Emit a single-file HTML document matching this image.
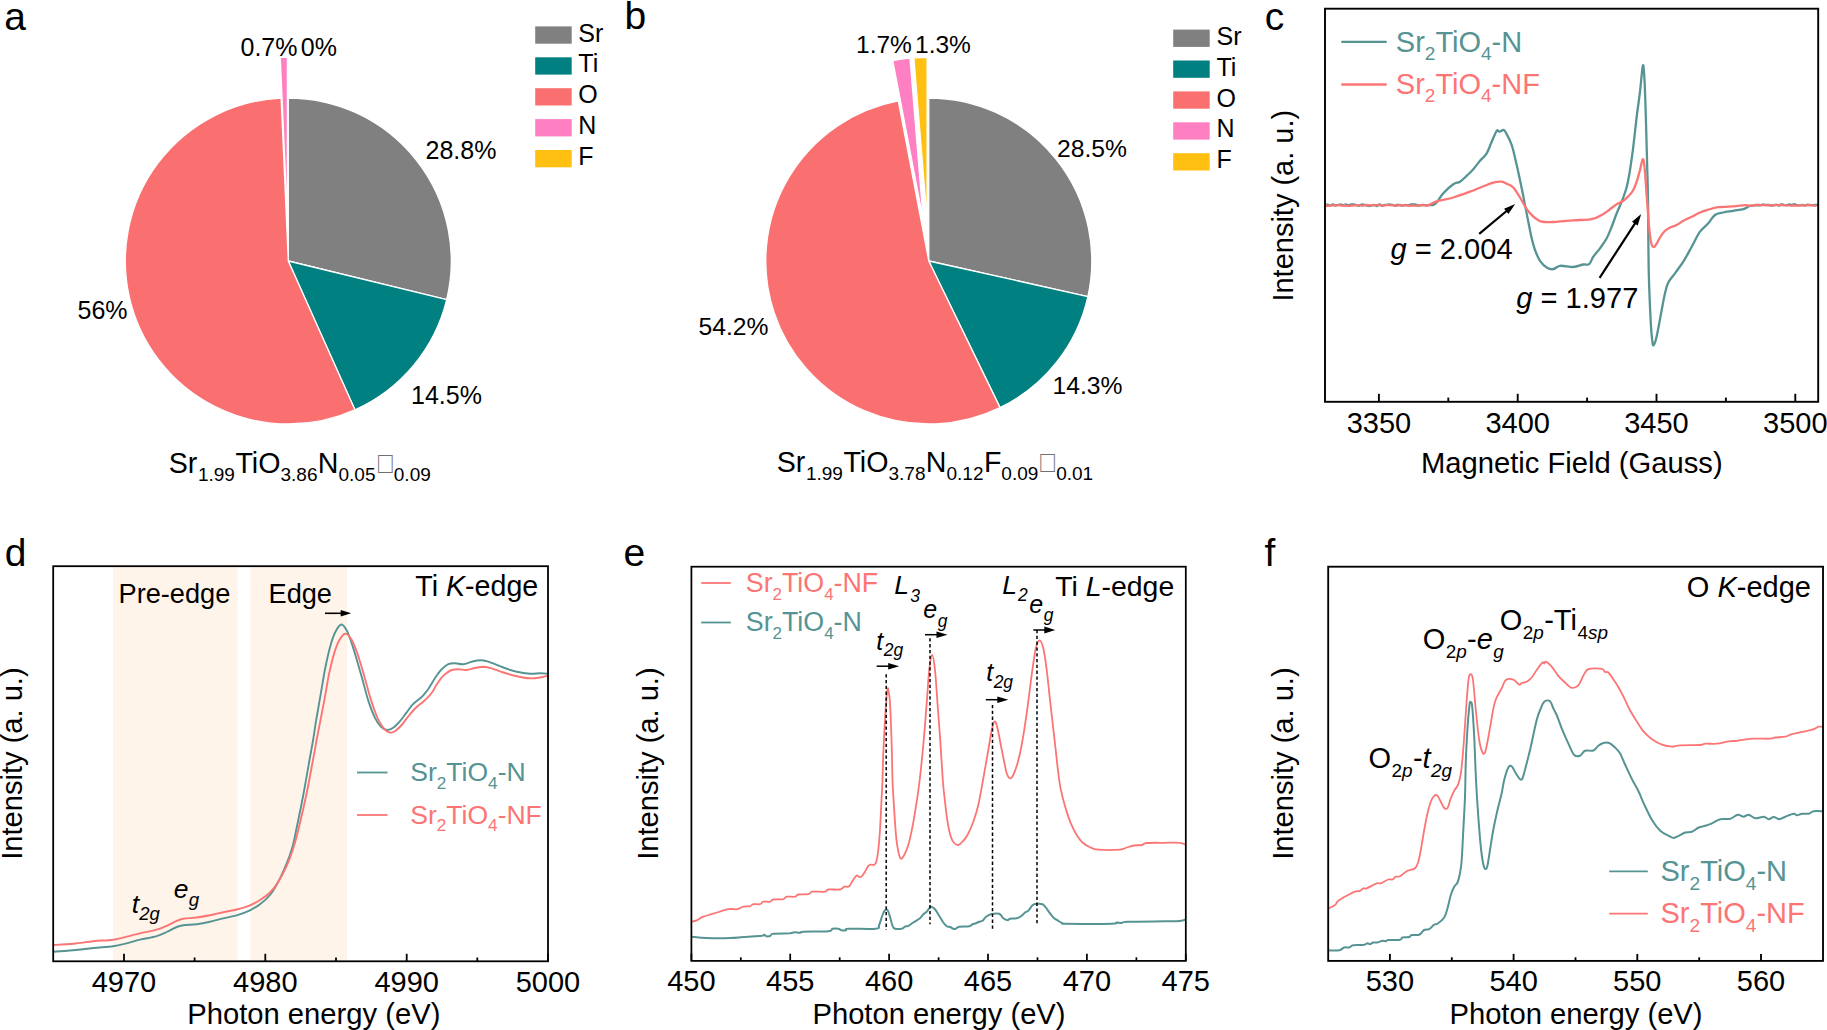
<!DOCTYPE html>
<html><head><meta charset="utf-8"><title>Figure</title>
<style>html,body{margin:0;padding:0;background:#fff}svg{display:block}text{font-family:"Liberation Sans", sans-serif}</style></head><body>
<svg width="1827" height="1030" viewBox="0 0 1827 1030">
<rect width="1827" height="1030" fill="#fff"/>
<text x="4.2" y="29.5" font-size="39.0px" fill="#000" text-anchor="start" ><tspan>a</tspan></text>
<text x="624.6" y="29.3" font-size="39.0px" fill="#000" text-anchor="start" ><tspan>b</tspan></text>
<text x="1264.8" y="29.5" font-size="39.0px" fill="#000" text-anchor="start" ><tspan>c</tspan></text>
<text x="4.8" y="566.0" font-size="39.0px" fill="#000" text-anchor="start" ><tspan>d</tspan></text>
<text x="623.6" y="566.0" font-size="39.0px" fill="#000" text-anchor="start" ><tspan>e</tspan></text>
<text x="1264.6" y="566.0" font-size="39.0px" fill="#000" text-anchor="start" ><tspan>f</tspan></text>
<path d="M288.30 261.00 L288.30 98.00 A163.00 163.00 0 0 1 446.68 299.55 Z" fill="#808080" stroke="#fff" stroke-width="1.3" stroke-linejoin="round"/>
<path d="M288.30 261.00 L446.68 299.55 A163.00 163.00 0 0 1 354.91 409.77 Z" fill="#008080" stroke="#fff" stroke-width="1.3" stroke-linejoin="round"/>
<path d="M288.30 261.00 L354.91 409.77 A163.00 163.00 0 1 1 281.13 98.16 Z" fill="#fa7070" stroke="#fff" stroke-width="1.3" stroke-linejoin="round"/>
<path d="M287.40 220.26 L280.24 57.42 A163.00 163.00 0 0 1 287.40 57.26 Z" fill="#ff80c2" stroke="#fff" stroke-width="1.3" stroke-linejoin="round"/>
<rect x="535.2" y="26.4" width="36.5" height="17.3" fill="#808080"/>
<text x="578.3" y="41.5" font-size="25.0px" fill="#000" text-anchor="start" ><tspan>Sr</tspan></text>
<rect x="535.2" y="57.3" width="36.5" height="17.3" fill="#008080"/>
<text x="578.3" y="72.4" font-size="25.0px" fill="#000" text-anchor="start" ><tspan>Ti</tspan></text>
<rect x="535.2" y="88.2" width="36.5" height="17.3" fill="#fa7070"/>
<text x="578.3" y="103.3" font-size="25.0px" fill="#000" text-anchor="start" ><tspan>O</tspan></text>
<rect x="535.2" y="119.1" width="36.5" height="17.3" fill="#ff80c2"/>
<text x="578.3" y="134.2" font-size="25.0px" fill="#000" text-anchor="start" ><tspan>N</tspan></text>
<rect x="535.2" y="150.0" width="36.5" height="17.3" fill="#ffc012"/>
<text x="578.3" y="165.1" font-size="25.0px" fill="#000" text-anchor="start" ><tspan>F</tspan></text>
<text x="425.5" y="158.5" font-size="25.0px" fill="#000" text-anchor="start" ><tspan>28.8%</tspan></text>
<text x="411.0" y="404.0" font-size="25.0px" fill="#000" text-anchor="start" ><tspan>14.5%</tspan></text>
<text x="77.5" y="319.0" font-size="25.0px" fill="#000" text-anchor="start" ><tspan>56%</tspan></text>
<text x="240.5" y="56.3" font-size="25.0px" fill="#000" text-anchor="start" ><tspan>0.7%</tspan></text>
<text x="300.8" y="56.3" font-size="25.0px" fill="#000" text-anchor="start" ><tspan>0%</tspan></text>
<text x="168.7" y="472.5" font-size="28.6px" fill="#000" text-anchor="start" ><tspan>Sr</tspan><tspan dy="8.0" font-size="19.0px" dx="0.6">1.99</tspan><tspan dy="-8.0" dx="0.6">TiO</tspan><tspan dy="8.0" font-size="19.0px">3.86</tspan><tspan dy="-8.0" dx="0.4">N</tspan><tspan dy="8.0" font-size="19.0px">0.05</tspan></text>
<text transform="translate(378.0 473.3) scale(0.805 1)" font-size="30.2px" fill="#707070" font-family='"DejaVu Sans", "Liberation Sans", sans-serif'>□</text>
<text x="393.8" y="480.5" font-size="19.0px" fill="#000" text-anchor="start" ><tspan>0.09</tspan></text>
<path d="M928.80 261.00 L928.80 98.00 A163.00 163.00 0 0 1 1087.87 296.56 Z" fill="#808080" stroke="#fff" stroke-width="1.3" stroke-linejoin="round"/>
<path d="M928.80 261.00 L1087.87 296.56 A163.00 163.00 0 0 1 1000.05 407.60 Z" fill="#008080" stroke="#fff" stroke-width="1.3" stroke-linejoin="round"/>
<path d="M928.80 261.00 L1000.05 407.60 A163.00 163.00 0 1 1 898.26 100.89 Z" fill="#fa7070" stroke="#fff" stroke-width="1.3" stroke-linejoin="round"/>
<path d="M923.31 220.62 L892.77 60.51 A163.00 163.00 0 0 1 910.01 58.16 Z" fill="#ff80c2" stroke="#fff" stroke-width="1.3" stroke-linejoin="round"/>
<path d="M927.14 220.28 L913.84 57.83 A163.00 163.00 0 0 1 927.14 57.28 Z" fill="#ffc012" stroke="#fff" stroke-width="1.3" stroke-linejoin="round"/>
<rect x="1173.2" y="29.6" width="36.5" height="17.3" fill="#808080"/>
<text x="1216.5" y="44.7" font-size="25.0px" fill="#000" text-anchor="start" ><tspan>Sr</tspan></text>
<rect x="1173.2" y="60.5" width="36.5" height="17.3" fill="#008080"/>
<text x="1216.5" y="75.6" font-size="25.0px" fill="#000" text-anchor="start" ><tspan>Ti</tspan></text>
<rect x="1173.2" y="91.4" width="36.5" height="17.3" fill="#fa7070"/>
<text x="1216.5" y="106.5" font-size="25.0px" fill="#000" text-anchor="start" ><tspan>O</tspan></text>
<rect x="1173.2" y="122.3" width="36.5" height="17.3" fill="#ff80c2"/>
<text x="1216.5" y="137.4" font-size="25.0px" fill="#000" text-anchor="start" ><tspan>N</tspan></text>
<rect x="1173.2" y="153.2" width="36.5" height="17.3" fill="#ffc012"/>
<text x="1216.5" y="168.3" font-size="25.0px" fill="#000" text-anchor="start" ><tspan>F</tspan></text>
<text x="1057.0" y="156.5" font-size="24.7px" fill="#000" text-anchor="start" ><tspan>28.5%</tspan></text>
<text x="1052.5" y="393.5" font-size="24.7px" fill="#000" text-anchor="start" ><tspan>14.3%</tspan></text>
<text x="698.5" y="335.0" font-size="24.7px" fill="#000" text-anchor="start" ><tspan>54.2%</tspan></text>
<text x="856.0" y="53.3" font-size="24.5px" fill="#000" text-anchor="start" ><tspan>1.7%</tspan></text>
<text x="915.0" y="53.3" font-size="24.5px" fill="#000" text-anchor="start" ><tspan>1.3%</tspan></text>
<text x="776.7" y="471.6" font-size="28.6px" fill="#000" text-anchor="start" ><tspan>Sr</tspan><tspan dy="8.0" font-size="19.0px" dx="0.6">1.99</tspan><tspan dy="-8.0" dx="0.6">TiO</tspan><tspan dy="8.0" font-size="19.0px">3.78</tspan><tspan dy="-8.0" dx="0.4">N</tspan><tspan dy="8.0" font-size="19.0px">0.12</tspan><tspan dy="-8.0" dx="0.4">F</tspan><tspan dy="8.0" font-size="19.0px">0.09</tspan></text>
<text transform="translate(1040.2 472.4) scale(0.805 1)" font-size="30.2px" fill="#707070" font-family='"DejaVu Sans", "Liberation Sans", sans-serif'>□</text>
<text x="1056.2" y="479.6" font-size="19.0px" fill="#000" text-anchor="start" ><tspan>0.01</tspan></text>
<clipPath id="cc"><rect x="1325" y="8.7" width="493.2" height="393.1"/></clipPath>
<path d="M1325.0 204.9C1325.4 204.8 1326.7 204.5 1327.6 204.6C1328.5 204.7 1329.3 205.5 1330.2 205.5C1331.1 205.4 1331.9 204.5 1332.8 204.4C1333.7 204.4 1334.5 205.2 1335.4 205.3C1336.3 205.4 1337.1 205.1 1338.0 205.0C1338.9 204.8 1339.7 204.4 1340.6 204.4C1341.5 204.4 1342.3 205.2 1343.2 205.2C1344.1 205.2 1344.9 204.4 1345.8 204.4C1346.7 204.3 1347.5 205.1 1348.4 205.1C1349.3 205.1 1350.1 204.5 1351.0 204.4C1351.9 204.3 1352.7 204.4 1353.6 204.5C1354.5 204.6 1355.3 204.8 1356.2 205.1C1357.1 205.3 1357.9 205.9 1358.8 205.8C1359.7 205.7 1360.5 204.7 1361.4 204.5C1362.3 204.3 1363.1 204.6 1364.0 204.7C1364.9 204.9 1365.7 205.2 1366.6 205.4C1367.5 205.6 1368.3 206.0 1369.2 206.0C1370.1 206.0 1370.9 205.5 1371.8 205.3C1372.7 205.2 1373.5 204.9 1374.4 205.0C1375.3 205.1 1376.1 206.2 1377.0 206.1C1377.9 206.0 1378.7 204.4 1379.6 204.4C1380.5 204.3 1381.3 205.8 1382.2 205.8C1383.1 205.9 1383.9 205.0 1384.8 204.8C1385.7 204.6 1386.5 204.6 1387.4 204.6C1388.3 204.5 1389.1 204.5 1390.0 204.5C1390.9 204.6 1391.7 204.6 1392.6 204.9C1393.5 205.1 1394.3 205.8 1395.2 205.8C1396.1 205.7 1396.9 204.7 1397.8 204.6C1398.7 204.6 1399.5 205.2 1400.4 205.3C1401.3 205.5 1402.1 205.5 1403.0 205.5C1403.9 205.4 1404.7 205.0 1405.6 205.0C1406.5 204.9 1407.3 205.4 1408.2 205.3C1409.1 205.2 1409.9 204.6 1410.8 204.4C1411.7 204.3 1412.5 204.4 1413.4 204.4C1414.3 204.5 1415.1 204.5 1416.0 204.7C1416.9 204.9 1417.7 205.5 1418.6 205.5C1419.5 205.6 1420.3 205.2 1421.2 205.1C1422.1 205.0 1422.9 204.8 1423.8 204.9C1424.7 204.9 1425.5 205.3 1426.4 205.4C1427.3 205.4 1428.1 205.2 1429.0 205.1C1429.9 205.0 1430.9 204.9 1431.6 204.8C1432.3 204.8 1432.1 205.4 1433.0 205.0C1433.9 204.6 1435.0 204.4 1436.7 202.5C1438.4 200.6 1440.5 196.4 1443.3 193.3C1446.1 190.2 1450.5 186.1 1453.3 184.2C1456.1 182.3 1457.8 183.1 1460.0 181.7C1462.2 180.3 1464.5 177.9 1466.7 175.8C1468.9 173.7 1471.1 171.7 1473.3 169.2C1475.5 166.7 1477.8 163.5 1480.0 160.8C1482.2 158.2 1484.8 156.5 1486.7 153.3C1488.7 150.1 1490.0 145.4 1491.7 141.7C1493.4 137.9 1495.5 132.5 1496.7 130.8C1498.0 129.1 1498.1 131.8 1499.2 131.7C1500.3 131.6 1502.2 129.9 1503.3 130.0C1504.4 130.1 1504.4 130.0 1505.8 132.5C1507.2 135.0 1509.9 139.6 1511.7 145.0C1513.5 150.4 1515.0 157.8 1516.7 165.0C1518.4 172.2 1520.3 181.6 1521.7 188.3C1523.1 195.0 1523.9 199.4 1525.0 205.0C1526.1 210.6 1527.2 216.1 1528.3 221.7C1529.4 227.2 1530.6 233.6 1531.7 238.3C1532.8 243.0 1533.6 246.2 1535.0 250.0C1536.4 253.8 1538.0 257.9 1540.0 260.8C1542.0 263.7 1544.5 266.1 1546.7 267.5C1548.9 268.9 1551.1 269.5 1553.3 269.2C1555.5 268.9 1556.7 266.2 1560.0 265.8C1563.3 265.4 1569.4 267.2 1573.3 267.0C1577.2 266.8 1580.6 265.0 1583.3 264.5C1586.0 264.0 1587.5 265.5 1589.2 264.2C1590.9 262.9 1591.5 259.3 1593.3 256.7C1595.1 254.0 1597.8 251.4 1600.0 248.3C1602.2 245.2 1604.8 241.9 1606.7 238.3C1608.7 234.7 1610.0 230.9 1611.7 226.7C1613.4 222.5 1615.0 217.5 1616.7 213.3C1618.4 209.1 1620.0 206.1 1621.7 201.7C1623.4 197.3 1625.3 192.3 1626.7 187.0C1628.1 181.7 1628.9 176.7 1630.0 170.0C1631.1 163.3 1632.2 155.6 1633.3 146.7C1634.4 137.8 1635.6 125.9 1636.7 116.7C1637.8 107.5 1639.0 100.2 1640.0 91.7C1641.0 83.2 1642.1 68.6 1642.8 65.8C1643.5 63.0 1643.8 69.3 1644.2 75.0C1644.6 80.7 1645.0 90.3 1645.3 100.0C1645.6 109.7 1646.0 122.2 1646.3 133.3C1646.6 144.4 1646.9 155.6 1647.2 166.7C1647.5 177.8 1647.7 182.2 1648.0 200.0C1648.3 217.8 1648.3 252.8 1648.8 273.3C1649.3 293.9 1650.2 311.8 1650.8 323.3C1651.4 334.8 1652.0 338.9 1652.5 342.5C1653.0 346.1 1653.2 345.4 1653.7 345.0C1654.2 344.6 1655.0 342.8 1655.8 340.0C1656.6 337.2 1657.3 333.3 1658.3 328.3C1659.3 323.3 1660.6 315.8 1661.7 310.0C1662.8 304.2 1663.9 297.9 1665.0 293.3C1666.1 288.7 1666.6 285.8 1668.3 282.5C1670.0 279.2 1672.5 276.8 1675.0 273.3C1677.5 269.8 1680.5 266.1 1683.3 261.7C1686.1 257.3 1688.9 251.7 1691.7 246.7C1694.5 241.7 1697.2 235.6 1700.0 231.7C1702.8 227.8 1705.8 226.1 1708.3 223.3C1710.8 220.5 1712.5 216.8 1715.0 215.0C1717.5 213.2 1720.2 213.2 1723.3 212.5C1726.3 211.8 1730.0 211.4 1733.3 210.8C1736.6 210.2 1740.5 210.0 1743.3 209.2C1746.1 208.4 1747.5 206.4 1750.0 205.8C1752.5 205.2 1756.2 205.5 1758.0 205.4C1759.8 205.3 1759.7 205.4 1760.6 205.2C1761.5 205.1 1762.3 204.5 1763.2 204.5C1764.1 204.5 1764.9 204.9 1765.8 205.0C1766.7 205.1 1767.5 204.9 1768.4 204.9C1769.3 205.0 1770.1 205.4 1771.0 205.5C1771.9 205.6 1772.7 205.4 1773.6 205.3C1774.5 205.1 1775.3 204.5 1776.2 204.6C1777.1 204.6 1777.9 205.7 1778.8 205.7C1779.7 205.6 1780.5 204.4 1781.4 204.3C1782.3 204.1 1783.1 204.6 1784.0 204.8C1784.9 204.9 1785.7 205.4 1786.6 205.3C1787.5 205.2 1788.3 204.4 1789.2 204.3C1790.1 204.3 1790.9 204.9 1791.8 204.9C1792.7 204.9 1793.5 204.1 1794.4 204.2C1795.3 204.2 1796.1 205.0 1797.0 205.2C1797.9 205.4 1798.7 205.3 1799.6 205.3C1800.5 205.3 1801.3 205.0 1802.2 205.0C1803.1 205.0 1803.9 205.6 1804.8 205.5C1805.7 205.4 1806.5 204.7 1807.4 204.6C1808.3 204.6 1809.1 205.1 1810.0 205.2C1810.9 205.3 1811.7 205.1 1812.6 205.1C1813.5 205.0 1814.3 205.1 1815.2 205.0C1816.1 205.0 1817.4 204.9 1817.8 204.8" fill="none" stroke="#569393" stroke-width="2.30" stroke-linejoin="round" stroke-linecap="butt" clip-path="url(#cc)"/>
<path d="M1325.0 205.7C1325.6 205.7 1327.3 205.9 1328.4 205.8C1329.5 205.7 1330.7 205.4 1331.8 205.4C1332.9 205.3 1334.1 205.6 1335.2 205.5C1336.3 205.5 1337.5 205.0 1338.6 205.0C1339.7 205.0 1340.9 205.5 1342.0 205.6C1343.1 205.7 1344.3 205.5 1345.4 205.5C1346.5 205.6 1347.7 205.8 1348.8 205.8C1349.9 205.9 1351.1 205.8 1352.2 205.7C1353.3 205.6 1354.5 205.3 1355.6 205.2C1356.7 205.1 1357.9 205.2 1359.0 205.3C1360.1 205.4 1361.3 205.6 1362.4 205.6C1363.5 205.5 1364.7 205.0 1365.8 205.0C1366.9 204.9 1368.1 205.3 1369.2 205.4C1370.3 205.4 1371.5 205.2 1372.6 205.1C1373.7 205.0 1374.9 205.1 1376.0 205.1C1377.1 205.0 1378.3 204.9 1379.4 205.0C1380.5 205.1 1381.7 205.6 1382.8 205.6C1383.9 205.7 1385.1 205.1 1386.2 205.1C1387.3 205.0 1388.5 205.1 1389.6 205.2C1390.7 205.2 1391.9 205.2 1393.0 205.3C1394.1 205.4 1395.3 205.8 1396.4 205.7C1397.5 205.7 1398.7 205.1 1399.8 205.0C1400.9 205.0 1402.1 205.3 1403.2 205.4C1404.3 205.4 1405.5 205.4 1406.6 205.4C1407.7 205.5 1408.9 205.7 1410.0 205.7C1411.1 205.8 1412.3 205.7 1413.4 205.7C1414.5 205.7 1415.7 205.8 1416.8 205.7C1417.9 205.6 1419.1 205.3 1420.2 205.2C1421.3 205.1 1422.3 205.3 1423.6 205.3C1424.9 205.3 1425.8 206.0 1428.0 205.3C1430.2 204.6 1432.5 202.6 1436.7 201.3C1440.9 200.0 1447.8 199.1 1453.3 197.5C1458.8 195.9 1464.4 193.8 1470.0 191.7C1475.6 189.6 1482.5 186.6 1486.7 185.0C1490.9 183.4 1492.5 182.8 1495.0 182.2C1497.5 181.6 1499.8 181.4 1501.7 181.7C1503.7 181.9 1504.8 182.7 1506.7 183.7C1508.6 184.7 1511.1 185.2 1513.3 187.5C1515.5 189.8 1517.8 193.9 1520.0 197.5C1522.2 201.1 1524.5 206.0 1526.7 209.2C1528.9 212.4 1530.8 214.4 1533.3 216.5C1535.8 218.6 1538.4 220.8 1541.7 221.7C1545.0 222.6 1549.1 222.2 1553.3 222.0C1557.5 221.8 1562.2 221.1 1566.7 220.8C1571.2 220.5 1575.8 220.3 1580.0 220.0C1584.2 219.7 1588.1 220.0 1591.7 219.2C1595.3 218.4 1598.7 216.7 1601.7 215.0C1604.8 213.3 1607.5 211.0 1610.0 209.2C1612.5 207.4 1614.5 205.6 1616.7 204.2C1618.9 202.8 1621.1 202.4 1623.3 200.8C1625.5 199.2 1628.3 196.3 1630.0 194.5C1631.7 192.7 1632.2 192.1 1633.3 190.0C1634.4 187.9 1635.6 185.0 1636.7 181.7C1637.8 178.4 1639.0 173.8 1640.0 170.0C1641.0 166.2 1642.0 159.8 1642.8 159.2C1643.5 158.6 1644.0 162.7 1644.5 166.7C1645.0 170.7 1645.3 176.6 1645.8 183.3C1646.3 190.0 1646.9 199.2 1647.5 206.7C1648.1 214.2 1648.6 222.2 1649.2 228.3C1649.8 234.4 1650.6 240.2 1651.3 243.3C1652.0 246.4 1652.5 246.7 1653.3 247.0C1654.0 247.3 1654.7 246.6 1655.8 245.0C1656.9 243.4 1658.5 239.9 1660.0 237.5C1661.5 235.1 1663.3 232.5 1665.0 230.8C1666.7 229.1 1668.0 228.5 1670.0 227.5C1672.0 226.5 1674.5 226.1 1676.7 225.0C1678.9 223.9 1680.8 222.2 1683.3 220.8C1685.8 219.4 1688.9 218.1 1691.7 216.7C1694.5 215.3 1697.2 213.7 1700.0 212.5C1702.8 211.3 1705.2 210.6 1708.3 209.7C1711.3 208.8 1714.1 207.8 1718.3 207.2C1722.5 206.6 1728.8 206.6 1733.3 206.3C1737.8 206.0 1742.5 205.3 1745.0 205.2C1747.5 205.1 1747.3 205.5 1748.4 205.6C1749.5 205.7 1750.7 205.8 1751.8 205.7C1752.9 205.6 1754.1 205.1 1755.2 205.0C1756.3 204.9 1757.5 205.0 1758.6 205.0C1759.7 205.1 1760.9 205.1 1762.0 205.1C1763.1 205.1 1764.3 205.1 1765.4 205.1C1766.5 205.1 1767.7 205.2 1768.8 205.3C1769.9 205.3 1771.1 205.4 1772.2 205.4C1773.3 205.3 1774.5 205.2 1775.6 205.1C1776.7 205.0 1777.9 204.9 1779.0 204.9C1780.1 204.9 1781.3 205.2 1782.4 205.2C1783.5 205.3 1784.7 205.2 1785.8 205.2C1786.9 205.2 1788.1 205.3 1789.2 205.4C1790.3 205.4 1791.5 205.6 1792.6 205.7C1793.7 205.7 1794.9 205.5 1796.0 205.5C1797.1 205.4 1798.3 205.3 1799.4 205.3C1800.5 205.3 1801.7 205.4 1802.8 205.4C1803.9 205.4 1805.1 205.5 1806.2 205.4C1807.3 205.4 1808.5 204.9 1809.6 204.9C1810.7 205.0 1811.9 205.5 1813.0 205.6C1814.1 205.7 1815.8 205.5 1816.4 205.5" fill="none" stroke="#fc7575" stroke-width="2.30" stroke-linejoin="round" stroke-linecap="butt" clip-path="url(#cc)"/>
<rect x="1325.0" y="8.7" width="493.2" height="393.1" fill="none" stroke="#000" stroke-width="1.90"/>
<line x1="1378.9" y1="401.8" x2="1378.9" y2="393.8" stroke="#000" stroke-width="1.90"/>
<line x1="1517.7" y1="401.8" x2="1517.7" y2="393.8" stroke="#000" stroke-width="1.90"/>
<line x1="1656.5" y1="401.8" x2="1656.5" y2="393.8" stroke="#000" stroke-width="1.90"/>
<line x1="1795.3" y1="401.8" x2="1795.3" y2="393.8" stroke="#000" stroke-width="1.90"/>
<line x1="1448.3" y1="401.8" x2="1448.3" y2="397.6" stroke="#000" stroke-width="1.90"/>
<line x1="1587.1" y1="401.8" x2="1587.1" y2="397.6" stroke="#000" stroke-width="1.90"/>
<line x1="1725.9" y1="401.8" x2="1725.9" y2="397.6" stroke="#000" stroke-width="1.90"/>
<text x="1378.9" y="433.2" font-size="29.0px" fill="#000" text-anchor="middle" ><tspan>3350</tspan></text>
<text x="1517.7" y="433.2" font-size="29.0px" fill="#000" text-anchor="middle" ><tspan>3400</tspan></text>
<text x="1656.5" y="433.2" font-size="29.0px" fill="#000" text-anchor="middle" ><tspan>3450</tspan></text>
<text x="1795.3" y="433.2" font-size="29.0px" fill="#000" text-anchor="middle" ><tspan>3500</tspan></text>
<text x="1571.8" y="472.7" font-size="29.2px" fill="#000" text-anchor="middle" ><tspan>Magnetic Field (Gauss)</tspan></text>
<text transform="translate(1292.7 205.7) rotate(-90)" font-size="29.0px" text-anchor="middle">Intensity (a. u.)</text>
<line x1="1341.3" y1="41.9" x2="1386.7" y2="41.9" stroke="#569393" stroke-width="2.3"/>
<line x1="1341.3" y1="84.5" x2="1386.7" y2="84.5" stroke="#fc7575" stroke-width="2.3"/>
<text x="1395.8" y="51.7" font-size="29.0px" fill="#569393" text-anchor="start" ><tspan>Sr</tspan><tspan dy="8.6" font-size="19.0px">2</tspan><tspan dy="-8.6">TiO</tspan><tspan dy="8.6" font-size="19.0px">4</tspan><tspan dy="-8.6">-N</tspan></text>
<text x="1395.8" y="93.7" font-size="29.0px" fill="#fc7575" text-anchor="start" ><tspan>Sr</tspan><tspan dy="8.6" font-size="19.0px">2</tspan><tspan dy="-8.6">TiO</tspan><tspan dy="8.6" font-size="19.0px">4</tspan><tspan dy="-8.6">-NF</tspan></text>
<line x1="1479.2" y1="233.8" x2="1507.8" y2="210.0" stroke="#000" stroke-width="2.20"/>
<polygon points="1515.2,203.9 1508.4,213.9 1504.1,208.7" fill="#000"/>
<line x1="1599.6" y1="277.8" x2="1636.0" y2="221.9" stroke="#000" stroke-width="2.20"/>
<polygon points="1641.2,213.9 1637.7,225.5 1632.0,221.8" fill="#000"/>
<text x="1390.5" y="259.0" font-size="29.1px" fill="#000" text-anchor="start" ><tspan font-style="italic">g</tspan><tspan> = 2.004</tspan></text>
<text x="1516.2" y="308.3" font-size="29.1px" fill="#000" text-anchor="start" ><tspan font-style="italic">g</tspan><tspan> = 1.977</tspan></text>
<rect x="113" y="566.2" width="124.5" height="395" fill="#fff4ea"/>
<rect x="250.5" y="566.2" width="96.5" height="395" fill="#fff4ea"/>
<clipPath id="cd"><rect x="53.2" y="566.2" width="494.8" height="395.1"/></clipPath>
<path d="M53.3 951.7C56.6 951.5 66.6 950.9 73.3 950.3C80.0 949.7 86.6 948.7 93.3 948.0C100.0 947.3 107.7 947.1 113.3 946.3C118.9 945.5 122.2 944.4 126.7 943.3C131.2 942.2 135.0 940.9 140.0 939.7C145.0 938.5 152.2 937.5 156.7 936.2C161.1 934.9 163.4 933.5 166.7 932.0C170.0 930.5 173.9 928.1 176.7 927.0C179.5 925.9 180.0 925.8 183.3 925.3C186.6 924.8 192.2 924.8 196.7 924.2C201.1 923.6 205.6 922.7 210.0 921.7C214.4 920.7 218.9 919.4 223.3 918.3C227.8 917.2 232.2 916.6 236.7 915.3C241.1 914.0 246.1 912.1 250.0 910.3C253.9 908.4 256.7 906.8 260.0 904.2C263.3 901.7 266.9 898.8 270.0 895.0C273.1 891.2 275.5 887.0 278.3 881.7C281.1 876.4 284.3 869.1 286.7 863.3C289.1 857.5 290.9 852.2 292.5 846.7C294.1 841.2 294.4 838.6 296.2 830.0C298.0 821.4 301.1 806.7 303.3 795.0C305.5 783.3 307.9 769.2 309.5 760.0C311.1 750.8 312.0 746.5 313.1 740.0C314.2 733.5 314.8 728.5 316.0 721.1C317.2 713.8 318.8 705.0 320.4 695.9C322.0 686.8 323.8 675.2 325.5 666.8C327.2 658.4 328.8 651.3 330.5 645.4C332.2 639.5 333.8 635.0 335.6 631.5C337.4 628.0 339.6 624.6 341.5 624.5C343.4 624.4 345.1 627.5 346.9 630.8C348.6 634.1 350.3 639.1 352.0 644.1C353.7 649.1 355.3 654.8 357.0 660.5C358.7 666.2 360.2 671.5 362.1 678.2C364.0 684.9 366.3 694.4 368.4 700.9C370.5 707.4 372.6 713.0 374.7 717.3C376.8 721.6 378.9 724.7 381.0 726.8C383.1 728.9 385.2 729.9 387.3 730.0C389.4 730.1 391.5 728.9 393.6 727.4C395.7 725.9 397.9 723.5 400.0 721.1C402.1 718.7 404.2 715.6 406.3 712.9C408.4 710.2 410.1 707.3 412.6 704.7C415.1 702.1 419.3 699.2 421.4 697.3C423.5 695.4 423.8 694.6 425.0 693.2C426.2 691.8 427.1 690.8 428.5 688.7C429.9 686.6 431.8 683.1 433.3 680.7C434.8 678.3 436.1 676.4 437.5 674.5C438.9 672.6 439.9 670.9 441.7 669.2C443.5 667.5 446.1 665.2 448.3 664.2C450.5 663.2 452.5 663.3 455.0 663.3C457.5 663.3 460.5 664.5 463.3 664.2C466.1 663.9 468.9 662.4 471.7 661.7C474.5 661.1 477.2 660.3 480.0 660.3C482.8 660.3 484.4 660.5 488.3 661.7C492.2 662.9 498.6 665.8 503.3 667.5C508.0 669.2 512.2 670.7 516.7 671.7C521.2 672.7 526.1 673.4 530.0 673.7C533.9 674.0 537.1 673.3 540.0 673.3C542.9 673.3 546.2 673.6 547.5 673.7" fill="none" stroke="#569393" stroke-width="1.90" stroke-linejoin="round" stroke-linecap="butt" clip-path="url(#cd)"/>
<path d="M53.3 945.0C56.6 944.8 66.6 944.3 73.3 943.7C80.0 943.1 86.6 941.9 93.3 941.2C100.0 940.5 107.7 940.5 113.3 939.7C118.9 939.0 122.2 937.8 126.7 936.7C131.2 935.6 135.0 934.5 140.0 933.3C145.0 932.1 152.2 931.0 156.7 929.7C161.1 928.5 163.4 927.3 166.7 925.8C170.0 924.3 173.9 922.0 176.7 920.8C179.5 919.6 180.0 919.3 183.3 918.8C186.6 918.2 192.2 918.1 196.7 917.5C201.1 916.9 205.6 916.2 210.0 915.3C214.4 914.4 218.9 913.2 223.3 912.2C227.8 911.2 232.2 910.6 236.7 909.5C241.1 908.4 246.1 906.9 250.0 905.3C253.9 903.7 256.7 902.1 260.0 900.0C263.3 897.9 266.9 895.5 270.0 892.5C273.1 889.5 275.5 886.2 278.3 881.7C281.1 877.2 284.2 871.4 286.7 865.8C289.2 860.2 291.4 854.3 293.3 848.3C295.2 842.3 296.1 839.2 298.3 830.0C300.5 820.8 304.2 805.0 306.7 793.0C309.2 781.0 311.6 767.1 313.3 758.3C315.0 749.5 315.5 745.8 316.6 740.0C317.7 734.2 318.5 730.1 319.8 723.6C321.1 717.1 322.6 709.3 324.2 700.9C325.8 692.5 327.5 681.1 329.2 673.1C330.9 665.1 332.6 658.4 334.3 652.9C336.0 647.4 337.5 643.5 339.3 640.3C341.1 637.1 343.1 634.0 345.0 633.7C346.9 633.4 348.9 635.8 350.7 638.4C352.5 641.0 354.1 644.8 355.8 649.1C357.5 653.4 359.1 658.8 360.8 664.3C362.5 669.8 364.2 676.1 365.9 682.0C367.6 687.9 369.0 693.7 370.9 699.6C372.8 705.5 375.1 712.5 377.2 717.3C379.3 722.0 381.4 725.5 383.5 728.1C385.6 730.7 387.9 732.2 389.8 732.7C391.7 733.2 393.0 732.4 394.9 731.2C396.8 730.0 399.1 727.8 401.2 725.5C403.3 723.2 405.2 720.1 407.5 717.3C409.8 714.5 412.6 711.0 415.1 708.5C417.6 706.0 420.7 703.9 422.7 702.2C424.7 700.5 425.4 699.8 427.0 698.2C428.6 696.6 430.4 694.8 432.0 692.5C433.6 690.2 435.2 686.9 436.7 684.5C438.2 682.1 439.6 680.0 441.0 678.3C442.4 676.6 443.2 675.6 445.0 674.2C446.8 672.8 449.5 670.8 451.7 670.0C453.9 669.2 455.8 669.2 458.3 669.2C460.8 669.2 463.9 670.2 466.7 670.0C469.5 669.8 472.2 668.5 475.0 668.0C477.8 667.5 480.5 666.7 483.3 666.7C486.1 666.8 488.4 667.3 491.7 668.3C495.0 669.3 499.1 671.2 503.3 672.5C507.5 673.8 512.2 675.2 516.7 676.2C521.2 677.2 526.1 678.1 530.0 678.3C533.9 678.5 537.1 677.9 540.0 677.5C542.9 677.1 546.2 676.1 547.5 675.8" fill="none" stroke="#fc7575" stroke-width="1.90" stroke-linejoin="round" stroke-linecap="butt" clip-path="url(#cd)"/>
<rect x="53.2" y="566.2" width="494.8" height="395.1" fill="none" stroke="#000" stroke-width="1.80"/>
<line x1="124.0" y1="961.3" x2="124.0" y2="953.8" stroke="#000" stroke-width="1.80"/>
<line x1="265.3" y1="961.3" x2="265.3" y2="953.8" stroke="#000" stroke-width="1.80"/>
<line x1="406.7" y1="961.3" x2="406.7" y2="953.8" stroke="#000" stroke-width="1.80"/>
<line x1="548.0" y1="961.3" x2="548.0" y2="953.8" stroke="#000" stroke-width="1.80"/>
<line x1="194.6" y1="961.3" x2="194.6" y2="957.5" stroke="#000" stroke-width="1.80"/>
<line x1="336.0" y1="961.3" x2="336.0" y2="957.5" stroke="#000" stroke-width="1.80"/>
<line x1="477.3" y1="961.3" x2="477.3" y2="957.5" stroke="#000" stroke-width="1.80"/>
<text x="124.0" y="991.8" font-size="29.0px" fill="#000" text-anchor="middle" ><tspan>4970</tspan></text>
<text x="265.3" y="991.8" font-size="29.0px" fill="#000" text-anchor="middle" ><tspan>4980</tspan></text>
<text x="406.7" y="991.8" font-size="29.0px" fill="#000" text-anchor="middle" ><tspan>4990</tspan></text>
<text x="548.0" y="991.8" font-size="29.0px" fill="#000" text-anchor="middle" ><tspan>5000</tspan></text>
<text x="313.8" y="1023.7" font-size="29.2px" fill="#000" text-anchor="middle" ><tspan>Photon energy (eV)</tspan></text>
<text transform="translate(22.0 763.6) rotate(-90)" font-size="29.1px" text-anchor="middle">Intensity (a. u.)</text>
<text x="118.5" y="603.0" font-size="27.2px" fill="#000" text-anchor="start" ><tspan>Pre-edge</tspan></text>
<text x="268.5" y="603.0" font-size="27.2px" fill="#000" text-anchor="start" ><tspan>Edge</tspan></text>
<text x="415.3" y="595.5" font-size="28.6px" fill="#000" text-anchor="start" ><tspan>Ti </tspan><tspan font-style="italic">K</tspan><tspan>-edge</tspan></text>
<line x1="325.0" y1="613.3" x2="342.7" y2="613.3" stroke="#000" stroke-width="1.60"/>
<polygon points="351.2,613.3 340.7,616.6 340.7,609.9" fill="#000"/>
<line x1="357" y1="772.5" x2="387.5" y2="772.5" stroke="#569393" stroke-width="1.8"/>
<line x1="357" y1="815" x2="387.5" y2="815" stroke="#fc7575" stroke-width="1.8"/>
<text x="410.3" y="781.4" font-size="26.5px" fill="#569393" text-anchor="start" ><tspan>Sr</tspan><tspan dy="7.4" font-size="17.2px">2</tspan><tspan dy="-7.4">TiO</tspan><tspan dy="7.4" font-size="17.2px">4</tspan><tspan dy="-7.4">-N</tspan></text>
<text x="410.3" y="823.9" font-size="26.5px" fill="#fc7575" text-anchor="start" ><tspan>Sr</tspan><tspan dy="7.4" font-size="17.2px">2</tspan><tspan dy="-7.4">TiO</tspan><tspan dy="7.4" font-size="17.2px">4</tspan><tspan dy="-7.4">-NF</tspan></text>
<text x="131.8" y="912.5" font-size="26.5px" fill="#000" text-anchor="start" ><tspan font-style="italic">t</tspan><tspan dy="7.9" font-size="18.5px" font-style="italic">2g</tspan></text>
<text x="173.8" y="897.5" font-size="26.5px" fill="#000" text-anchor="start" ><tspan font-style="italic">e</tspan><tspan dy="8.3" font-size="18.8px" font-style="italic" dx="0.3">g</tspan></text>
<clipPath id="ce"><rect x="691.4" y="566.7" width="494.4" height="394.2"/></clipPath>
<path d="M691.2 921.7C692.1 921.5 694.7 921.1 696.7 920.3C698.7 919.5 700.5 917.8 703.3 916.7C706.1 915.6 709.1 915.0 713.3 913.7C717.5 912.5 724.3 910.0 728.3 909.2C732.3 908.5 735.0 909.6 737.5 909.2C740.0 908.8 741.2 907.2 743.3 906.7C745.4 906.2 748.3 906.7 750.0 906.3C751.7 905.9 751.6 904.6 753.3 904.2C755.0 903.9 758.3 904.6 760.0 904.2C761.7 903.8 761.6 902.1 763.3 901.7C765.0 901.3 768.3 902.1 770.0 901.7C771.7 901.3 771.1 899.9 773.3 899.5C775.5 899.1 781.1 899.7 783.3 899.2C785.5 898.7 784.8 897.1 786.7 896.7C788.7 896.3 793.1 897.1 795.0 896.7C796.9 896.3 796.1 894.9 798.3 894.5C800.5 894.1 805.9 894.7 808.3 894.2C810.7 893.7 809.7 892.1 812.5 891.7C815.3 891.3 822.4 892.1 825.0 891.7C827.6 891.3 825.8 889.9 828.3 889.5C830.8 889.1 837.4 890.0 840.0 889.5C842.6 889.0 842.7 887.2 844.2 886.7C845.7 886.2 847.7 887.5 849.2 886.3C850.7 885.1 852.0 881.5 853.3 879.7C854.5 877.9 855.7 876.0 856.7 875.5C857.7 875.0 858.4 876.9 859.2 877.0C860.0 877.1 860.7 877.2 861.7 876.3C862.7 875.4 863.9 873.5 865.0 871.7C866.1 870.0 867.3 867.0 868.3 865.8C869.3 864.6 869.8 864.9 870.8 864.7C871.8 864.5 873.3 865.2 874.2 864.7C875.1 864.2 875.6 864.2 876.3 861.7C877.0 859.2 877.7 855.3 878.3 850.0C878.9 844.7 879.5 838.3 880.0 830.0C880.5 821.7 881.1 808.3 881.5 800.0C881.9 791.7 882.2 787.8 882.5 780.0C882.8 772.2 882.9 763.3 883.3 753.3C883.7 743.3 884.5 729.2 885.0 720.0C885.5 710.8 886.0 703.3 886.5 698.0C887.0 692.7 887.4 689.0 887.8 688.3C888.2 687.6 888.6 691.5 889.0 694.0C889.4 696.5 889.5 694.8 890.0 703.3C890.5 711.8 891.3 732.2 891.7 745.0C892.1 757.8 892.1 769.2 892.5 780.0C892.9 790.8 893.6 800.3 894.2 810.0C894.8 819.7 895.5 831.1 896.3 838.3C897.0 845.5 898.0 849.9 898.7 853.3C899.5 856.7 899.9 858.4 900.8 858.7C901.7 859.0 903.0 857.3 904.2 855.0C905.5 852.7 906.9 849.7 908.3 845.0C909.7 840.3 911.1 833.9 912.5 826.7C913.9 819.5 915.5 809.5 916.7 801.7C917.9 793.9 918.6 789.5 919.7 780.0C920.8 770.5 922.1 757.8 923.3 745.0C924.5 732.2 925.7 715.8 926.7 703.3C927.7 690.8 928.3 678.0 929.2 670.0C930.1 662.0 931.2 655.0 932.2 655.0C933.2 655.0 934.1 662.0 935.0 670.0C935.9 678.0 936.7 692.2 937.5 703.3C938.3 714.4 939.1 723.9 940.0 736.7C940.9 749.5 942.0 769.2 942.8 780.0C943.6 790.8 944.2 794.8 945.0 801.7C945.8 808.7 946.5 815.9 947.5 821.7C948.5 827.5 949.7 833.2 950.8 836.7C951.9 840.2 953.0 841.6 954.2 843.0C955.5 844.4 957.0 845.1 958.3 845.0C959.5 844.9 960.2 844.2 961.7 842.5C963.2 840.8 965.6 838.5 967.5 835.0C969.4 831.5 971.5 826.7 973.3 821.7C975.1 816.7 976.7 812.0 978.3 805.0C979.9 798.0 981.3 789.2 983.0 780.0C984.7 770.8 986.8 758.3 988.3 750.0C989.8 741.7 990.6 734.8 991.7 730.0C992.8 725.2 993.7 721.6 994.7 721.3C995.7 721.0 996.5 724.3 997.5 728.3C998.5 732.2 999.7 739.4 1000.8 745.0C1001.9 750.6 1003.2 757.0 1004.2 761.7C1005.2 766.4 1005.7 770.5 1006.7 773.3C1007.7 776.1 1008.9 778.0 1010.0 778.3C1011.1 778.6 1012.0 777.5 1013.3 775.0C1014.5 772.5 1016.1 768.3 1017.5 763.3C1018.9 758.3 1020.2 753.3 1021.7 745.0C1023.2 736.7 1025.0 725.0 1026.7 713.3C1028.4 701.6 1030.2 685.8 1031.7 675.0C1033.2 664.2 1034.5 654.1 1035.8 648.3C1037.1 642.5 1038.5 640.3 1039.7 640.3C1041.0 640.3 1042.1 643.3 1043.3 648.3C1044.5 653.2 1045.6 661.4 1046.7 670.0C1047.8 678.6 1048.8 688.9 1050.0 700.0C1051.2 711.1 1052.7 723.4 1054.2 736.7C1055.7 750.0 1057.8 770.0 1059.2 780.0C1060.6 790.0 1061.2 791.4 1062.5 796.7C1063.8 802.0 1065.3 807.3 1066.7 811.7C1068.1 816.1 1069.1 819.4 1070.8 823.3C1072.5 827.2 1074.8 831.8 1076.7 835.0C1078.7 838.2 1080.3 840.5 1082.5 842.5C1084.7 844.5 1087.4 846.0 1090.0 847.2C1092.6 848.4 1093.3 849.3 1098.3 849.7C1103.3 850.1 1115.3 850.1 1120.0 849.7C1124.7 849.3 1124.3 848.2 1126.7 847.5C1129.1 846.8 1131.7 845.9 1134.2 845.5C1136.7 845.1 1139.6 845.4 1141.7 845.0C1143.8 844.6 1142.9 843.4 1146.7 843.0C1150.5 842.6 1158.8 842.8 1164.3 842.8C1169.8 842.8 1176.4 842.4 1180.0 842.8C1183.6 843.2 1185.0 844.6 1186.0 845.0" fill="none" stroke="#fc7575" stroke-width="1.80" stroke-linejoin="round" stroke-linecap="butt" clip-path="url(#ce)"/>
<path d="M691.2 936.7C693.8 936.9 700.2 937.8 706.7 938.0C713.2 938.2 723.9 938.2 730.0 938.0C736.1 937.8 738.0 937.4 743.3 937.0C748.6 936.6 758.2 936.2 761.7 935.8C765.2 935.4 763.4 934.6 764.2 934.7C765.0 934.8 765.7 936.1 766.7 936.3C767.7 936.5 768.9 936.4 770.0 936.0C771.1 935.6 770.0 934.2 773.3 933.7C776.6 933.2 786.5 933.5 790.0 933.3C793.5 933.0 792.5 932.3 794.2 932.2C795.9 932.1 798.5 932.9 800.0 932.8C801.5 932.7 798.6 932.0 803.3 931.7C808.0 931.5 823.4 931.8 828.3 931.3C833.2 930.8 830.8 929.2 832.5 928.8C834.2 928.4 836.8 928.5 838.3 928.7C839.8 929.0 840.5 930.0 841.7 930.3C843.0 930.6 844.7 930.5 845.8 930.3C846.9 930.0 843.3 929.1 848.3 928.8C853.3 928.5 870.6 929.3 875.8 928.7C880.9 928.1 878.1 927.3 879.2 925.0C880.3 922.7 881.5 917.5 882.5 915.0C883.5 912.5 884.2 911.1 885.0 910.3C885.8 909.5 886.7 908.9 887.5 910.0C888.3 911.1 889.2 914.1 890.0 916.7C890.8 919.3 891.7 923.8 892.5 925.8C893.3 927.8 893.5 928.2 895.0 928.7C896.5 929.2 900.0 929.0 901.7 928.7C903.4 928.4 903.9 927.2 905.0 926.7C906.1 926.2 906.9 926.5 908.3 925.8C909.7 925.1 911.3 923.8 913.3 922.5C915.2 921.2 918.3 919.7 920.0 918.3C921.7 916.9 922.2 915.3 923.3 914.2C924.4 913.1 925.5 913.0 926.7 911.7C928.0 910.5 929.4 907.1 930.8 906.7C932.2 906.3 933.6 907.7 935.0 909.2C936.4 910.7 937.8 913.6 939.2 915.8C940.6 918.0 942.0 920.8 943.3 922.5C944.5 924.2 945.6 925.5 946.7 926.2C947.8 927.0 948.9 926.6 950.0 927.0C951.1 927.4 952.3 928.5 953.3 928.8C954.3 929.1 954.8 929.1 955.8 928.7C956.8 928.4 957.0 927.1 959.2 926.7C961.4 926.3 967.0 926.7 969.2 926.3C971.4 925.9 971.4 924.7 972.5 924.2C973.6 923.7 974.7 923.7 975.8 923.3C976.9 922.9 978.1 922.1 979.2 921.7C980.3 921.3 981.4 921.6 982.5 920.8C983.6 920.0 984.4 918.1 985.8 917.0C987.2 915.9 988.6 914.7 990.8 914.2C993.0 913.7 997.1 913.1 999.2 913.8C1001.3 914.5 1001.9 917.2 1003.3 918.3C1004.7 919.4 1006.4 920.2 1007.5 920.3C1008.6 920.4 1008.5 919.0 1010.0 918.7C1011.5 918.4 1014.8 918.8 1016.7 918.3C1018.7 917.8 1020.3 916.8 1021.7 915.8C1023.1 914.8 1023.9 913.3 1025.0 912.5C1026.1 911.7 1027.0 912.0 1028.3 910.8C1029.5 909.6 1031.1 906.5 1032.5 905.3C1033.9 904.1 1035.0 904.0 1036.7 903.8C1038.4 903.6 1041.0 903.6 1042.5 904.2C1044.0 904.8 1044.5 906.0 1045.8 907.5C1047.0 909.0 1048.6 911.5 1050.0 913.3C1051.4 915.1 1052.8 917.0 1054.2 918.3C1055.6 919.5 1056.9 920.0 1058.3 920.8C1059.7 921.6 1061.1 922.8 1062.5 923.3C1063.9 923.8 1058.5 923.6 1066.7 923.7C1074.9 923.8 1103.4 923.9 1111.7 923.7C1120.0 923.5 1115.0 922.6 1116.7 922.5C1118.4 922.4 1119.9 923.1 1121.7 923.0C1123.5 922.9 1120.4 922.0 1127.5 921.7C1134.6 921.4 1155.5 921.4 1164.3 921.3C1173.0 921.2 1176.4 921.3 1180.0 921.0C1183.6 920.7 1185.0 919.8 1186.0 919.5" fill="none" stroke="#569393" stroke-width="2.00" stroke-linejoin="round" stroke-linecap="butt" clip-path="url(#ce)"/>
<line x1="886.2" y1="674.2" x2="886.2" y2="930.0" stroke="#000" stroke-width="1.5" stroke-dasharray="3.3 2.5"/>
<line x1="930.0" y1="638.3" x2="930.0" y2="924.2" stroke="#000" stroke-width="1.5" stroke-dasharray="3.3 2.5"/>
<line x1="992.5" y1="705.0" x2="992.5" y2="929.2" stroke="#000" stroke-width="1.5" stroke-dasharray="3.3 2.5"/>
<line x1="1037.0" y1="630.0" x2="1037.0" y2="925.0" stroke="#000" stroke-width="1.5" stroke-dasharray="3.3 2.5"/>
<rect x="691.4" y="566.7" width="494.4" height="394.2" fill="none" stroke="#000" stroke-width="1.75"/>
<line x1="691.4" y1="960.9" x2="691.4" y2="953.7" stroke="#000" stroke-width="1.75"/>
<line x1="790.2" y1="960.9" x2="790.2" y2="953.7" stroke="#000" stroke-width="1.75"/>
<line x1="889.1" y1="960.9" x2="889.1" y2="953.7" stroke="#000" stroke-width="1.75"/>
<line x1="988.0" y1="960.9" x2="988.0" y2="953.7" stroke="#000" stroke-width="1.75"/>
<line x1="1086.9" y1="960.9" x2="1086.9" y2="953.7" stroke="#000" stroke-width="1.75"/>
<line x1="1185.8" y1="960.9" x2="1185.8" y2="953.7" stroke="#000" stroke-width="1.75"/>
<line x1="740.8" y1="960.9" x2="740.8" y2="957.3" stroke="#000" stroke-width="1.75"/>
<line x1="839.7" y1="960.9" x2="839.7" y2="957.3" stroke="#000" stroke-width="1.75"/>
<line x1="938.6" y1="960.9" x2="938.6" y2="957.3" stroke="#000" stroke-width="1.75"/>
<line x1="1037.5" y1="960.9" x2="1037.5" y2="957.3" stroke="#000" stroke-width="1.75"/>
<line x1="1136.4" y1="960.9" x2="1136.4" y2="957.3" stroke="#000" stroke-width="1.75"/>
<text x="691.4" y="991.4" font-size="29.0px" fill="#000" text-anchor="middle" ><tspan>450</tspan></text>
<text x="790.2" y="991.4" font-size="29.0px" fill="#000" text-anchor="middle" ><tspan>455</tspan></text>
<text x="889.1" y="991.4" font-size="29.0px" fill="#000" text-anchor="middle" ><tspan>460</tspan></text>
<text x="988.0" y="991.4" font-size="29.0px" fill="#000" text-anchor="middle" ><tspan>465</tspan></text>
<text x="1086.9" y="991.4" font-size="29.0px" fill="#000" text-anchor="middle" ><tspan>470</tspan></text>
<text x="1185.8" y="991.4" font-size="29.0px" fill="#000" text-anchor="middle" ><tspan>475</tspan></text>
<text x="939.0" y="1023.7" font-size="29.2px" fill="#000" text-anchor="middle" ><tspan>Photon energy (eV)</tspan></text>
<text transform="translate(658.2 763.6) rotate(-90)" font-size="29.1px" text-anchor="middle">Intensity (a. u.)</text>
<line x1="701.2" y1="583" x2="730.8" y2="583" stroke="#fc7575" stroke-width="1.8"/>
<line x1="701.2" y1="622.5" x2="730.8" y2="622.5" stroke="#569393" stroke-width="1.8"/>
<text x="745.8" y="591.7" font-size="26.8px" fill="#fc7575" text-anchor="start" ><tspan>Sr</tspan><tspan dy="8.0" font-size="16.9px">2</tspan><tspan dy="-8.0">TiO</tspan><tspan dy="8.0" font-size="16.9px">4</tspan><tspan dy="-8.0">-NF</tspan></text>
<text x="745.8" y="631.3" font-size="26.8px" fill="#569393" text-anchor="start" ><tspan>Sr</tspan><tspan dy="8.0" font-size="16.9px">2</tspan><tspan dy="-8.0">TiO</tspan><tspan dy="8.0" font-size="16.9px">4</tspan><tspan dy="-8.0">-N</tspan></text>
<text x="1055.3" y="595.5" font-size="28.4px" fill="#000" text-anchor="start" ><tspan>Ti </tspan><tspan font-style="italic">L</tspan><tspan>-edge</tspan></text>
<text x="894.2" y="593.7" font-size="26.5px" fill="#000" text-anchor="start" ><tspan font-style="italic">L</tspan><tspan dy="7.8" font-size="17.5px" font-style="italic" dx="1.2">3</tspan></text>
<text x="1002.2" y="593.7" font-size="26.5px" fill="#000" text-anchor="start" ><tspan font-style="italic">L</tspan><tspan dy="7.5" font-size="17.5px" font-style="italic" dx="1.0">2</tspan></text>
<text x="923.3" y="618.3" font-size="25.0px" fill="#000" text-anchor="start" ><tspan font-style="italic">e</tspan><tspan dy="8.4" font-size="17.5px" font-style="italic" dx="0.6">g</tspan></text>
<text x="1029.3" y="613.0" font-size="25.0px" fill="#000" text-anchor="start" ><tspan font-style="italic">e</tspan><tspan dy="7.8" font-size="17.5px" font-style="italic" dx="0.6">g</tspan></text>
<text x="876.3" y="650.0" font-size="25.0px" fill="#000" text-anchor="start" ><tspan font-style="italic">t</tspan><tspan dy="6.3" font-size="17.5px" font-style="italic" dx="0.5">2g</tspan></text>
<text x="986.2" y="680.8" font-size="25.0px" fill="#000" text-anchor="start" ><tspan font-style="italic">t</tspan><tspan dy="7.2" font-size="17.5px" font-style="italic" dx="0.5">2g</tspan></text>
<line x1="876.7" y1="666.2" x2="890.2" y2="666.2" stroke="#000" stroke-width="1.50"/>
<polygon points="899.2,666.2 888.2,669.6 888.2,662.9" fill="#000"/>
<line x1="925.0" y1="634.7" x2="938.5" y2="634.7" stroke="#000" stroke-width="1.50"/>
<polygon points="947.5,634.7 936.5,638.1 936.5,631.4" fill="#000"/>
<line x1="985.8" y1="699.7" x2="999.3" y2="699.7" stroke="#000" stroke-width="1.50"/>
<polygon points="1008.3,699.7 997.3,703.1 997.3,696.4" fill="#000"/>
<line x1="1033.3" y1="630.0" x2="1046.3" y2="630.0" stroke="#000" stroke-width="1.50"/>
<polygon points="1055.3,630.0 1044.3,633.4 1044.3,626.6" fill="#000"/>
<clipPath id="cf"><rect x="1328.2" y="566.7" width="494.8" height="394.2"/></clipPath>
<path d="M1328.3 908.7C1329.4 908.1 1333.3 906.3 1335.0 905.0C1336.7 903.7 1336.3 902.3 1338.3 900.8C1340.2 899.3 1343.9 897.3 1346.7 895.8C1349.5 894.3 1352.8 892.5 1355.0 891.7C1357.2 890.9 1358.6 891.4 1360.0 890.8C1361.4 890.2 1362.2 888.7 1363.3 888.3C1364.4 887.9 1364.5 889.1 1366.7 888.3C1368.9 887.5 1374.4 884.1 1376.7 883.3C1379.0 882.5 1378.9 883.9 1380.8 883.3C1382.7 882.7 1386.3 880.1 1388.3 879.5C1390.2 878.9 1391.2 880.0 1392.5 879.5C1393.8 879.0 1394.5 877.2 1395.8 876.7C1397.0 876.2 1398.2 877.2 1400.0 876.3C1401.8 875.4 1404.2 872.5 1406.7 871.2C1409.2 869.9 1413.1 869.9 1415.0 868.3C1416.9 866.7 1417.3 864.8 1418.3 861.7C1419.3 858.7 1419.8 855.3 1420.8 850.0C1421.8 844.7 1423.1 836.1 1424.2 830.0C1425.3 823.9 1426.4 818.0 1427.5 813.3C1428.6 808.6 1429.7 804.6 1430.8 801.7C1431.9 798.8 1433.1 796.8 1434.2 795.8C1435.3 794.8 1436.4 794.8 1437.5 795.8C1438.6 796.8 1439.7 799.7 1440.8 801.7C1441.9 803.7 1443.1 807.0 1444.2 808.0C1445.3 809.0 1446.4 809.6 1447.5 808.0C1448.6 806.4 1449.7 801.2 1450.8 798.3C1451.9 795.4 1453.1 792.9 1454.2 790.8C1455.3 788.7 1456.5 787.9 1457.5 785.8C1458.5 783.7 1459.3 781.2 1460.0 778.0C1460.7 774.8 1461.0 773.6 1461.7 766.7C1462.4 759.8 1463.4 747.8 1464.2 736.7C1465.0 725.6 1466.0 709.7 1466.7 700.0C1467.5 690.3 1468.0 682.6 1468.7 678.3C1469.4 674.0 1470.1 673.9 1470.8 674.2C1471.5 674.5 1472.2 674.0 1473.0 680.0C1473.8 686.0 1474.8 700.0 1475.8 710.0C1476.8 720.0 1478.1 732.9 1479.2 740.0C1480.3 747.1 1481.5 750.4 1482.5 752.5C1483.5 754.6 1484.2 754.3 1485.0 752.5C1485.8 750.7 1486.5 746.6 1487.5 741.7C1488.5 736.8 1489.5 730.0 1490.8 723.3C1492.0 716.6 1493.2 707.5 1495.0 701.7C1496.8 695.9 1499.9 691.9 1501.7 688.3C1503.5 684.7 1503.9 681.4 1505.8 680.0C1507.7 678.6 1511.1 678.9 1513.3 679.7C1515.5 680.5 1517.8 684.2 1519.2 684.7C1520.6 685.2 1520.5 683.5 1521.7 683.0C1523.0 682.5 1525.0 682.6 1526.7 681.7C1528.4 680.8 1530.0 679.5 1531.7 677.5C1533.4 675.5 1534.9 672.5 1536.7 670.0C1538.5 667.5 1541.2 663.5 1542.5 662.5C1543.8 661.5 1543.7 663.8 1544.2 663.7C1544.8 663.6 1544.5 661.2 1545.8 661.7C1547.0 662.2 1549.6 664.4 1551.7 666.7C1553.8 669.1 1556.1 673.2 1558.3 675.8C1560.5 678.4 1562.9 680.5 1565.0 682.5C1567.1 684.5 1569.1 686.7 1570.8 687.5C1572.5 688.3 1573.6 688.0 1575.0 687.5C1576.4 687.0 1577.8 686.2 1579.2 684.2C1580.6 682.2 1581.8 678.3 1583.3 675.8C1584.8 673.3 1585.2 670.4 1588.3 669.2C1591.4 668.0 1598.9 668.3 1601.7 668.8C1604.5 669.3 1603.9 671.4 1605.0 672.0C1606.1 672.6 1606.6 670.9 1608.3 672.5C1610.0 674.1 1613.0 678.8 1615.0 681.7C1617.0 684.6 1618.5 687.2 1620.0 690.0C1621.5 692.8 1622.6 694.8 1624.3 698.3C1626.0 701.8 1628.2 706.9 1630.3 710.8C1632.4 714.7 1634.8 718.2 1637.0 721.7C1639.2 725.2 1641.2 728.8 1643.7 731.7C1646.2 734.6 1649.0 737.0 1652.0 739.2C1655.0 741.4 1658.7 743.5 1662.0 744.7C1665.3 746.0 1669.0 746.6 1672.0 746.7C1675.0 746.8 1675.6 745.6 1680.3 745.3C1685.0 745.0 1696.1 745.3 1700.3 745.0C1704.5 744.7 1702.5 743.9 1705.3 743.7C1708.1 743.5 1713.1 744.1 1717.0 743.7C1720.9 743.3 1725.4 741.8 1728.7 741.3C1732.0 740.8 1733.1 741.2 1737.0 740.8C1740.9 740.4 1746.5 739.1 1752.0 738.7C1757.5 738.4 1766.4 738.9 1770.3 738.7C1774.2 738.5 1772.8 737.8 1775.3 737.5C1777.8 737.2 1782.5 737.2 1785.3 736.7C1788.1 736.2 1788.7 735.1 1792.0 734.2C1795.3 733.3 1801.7 732.1 1805.3 731.3C1808.9 730.5 1811.5 730.0 1813.7 729.2C1815.9 728.4 1817.2 727.1 1818.7 726.7C1820.2 726.3 1822.1 726.7 1822.8 726.7" fill="none" stroke="#fc7575" stroke-width="1.80" stroke-linejoin="round" stroke-linecap="butt" clip-path="url(#cf)"/>
<path d="M1328.3 950.3C1330.1 950.3 1336.5 950.8 1339.2 950.3C1341.9 949.8 1342.5 948.0 1344.2 947.5C1345.9 947.0 1347.7 947.9 1349.2 947.5C1350.7 947.1 1351.0 945.7 1353.3 945.3C1355.6 944.9 1360.9 945.3 1363.3 945.0C1365.7 944.7 1366.4 943.4 1367.5 943.3C1368.6 943.2 1369.0 944.3 1370.0 944.2C1371.0 944.1 1372.0 942.8 1373.3 942.5C1374.5 942.2 1376.0 942.8 1377.5 942.5C1379.0 942.2 1381.1 941.0 1382.5 940.8C1383.9 940.6 1384.8 941.4 1385.8 941.3C1386.8 941.2 1385.9 940.3 1388.3 940.0C1390.7 939.7 1397.6 940.1 1400.0 939.7C1402.4 939.3 1401.0 938.0 1402.5 937.5C1404.0 937.0 1407.7 937.4 1409.2 937.0C1410.7 936.6 1410.0 935.4 1411.7 935.0C1413.4 934.6 1417.1 935.5 1419.2 934.7C1421.3 933.9 1422.5 930.9 1424.2 930.0C1425.9 929.1 1427.5 930.1 1429.2 929.2C1430.9 928.3 1432.8 925.6 1434.2 924.7C1435.6 923.8 1435.8 924.9 1437.5 923.7C1439.2 922.5 1442.5 920.1 1444.2 917.5C1445.9 914.9 1446.4 912.0 1447.5 908.3C1448.6 904.5 1449.7 898.6 1450.8 895.0C1451.9 891.4 1453.1 888.8 1454.2 886.7C1455.3 884.6 1456.5 884.7 1457.5 882.5C1458.5 880.3 1459.3 877.0 1460.0 873.3C1460.7 869.5 1461.2 867.2 1461.7 860.0C1462.2 852.8 1462.8 840.5 1463.3 830.0C1463.8 819.5 1464.6 808.1 1465.0 796.7C1465.4 785.3 1465.4 773.1 1465.8 761.7C1466.2 750.3 1466.9 737.8 1467.5 728.3C1468.1 718.8 1469.0 709.4 1469.5 705.0C1470.0 700.6 1470.3 701.9 1470.8 702.2C1471.2 702.5 1471.6 701.0 1472.2 706.7C1472.8 712.5 1473.6 725.3 1474.2 736.7C1474.8 748.1 1475.2 763.6 1475.8 775.0C1476.3 786.4 1476.8 794.5 1477.5 805.0C1478.2 815.5 1479.2 829.1 1480.0 838.3C1480.8 847.5 1481.7 855.0 1482.5 860.0C1483.3 865.0 1483.9 867.2 1484.7 868.3C1485.5 869.4 1486.3 869.8 1487.2 866.7C1488.1 863.7 1489.0 856.1 1490.0 850.0C1491.0 843.9 1492.0 836.7 1493.3 830.0C1494.5 823.3 1496.1 816.1 1497.5 810.0C1498.9 803.9 1500.6 798.3 1501.7 793.3C1502.8 788.3 1503.1 784.3 1504.2 780.0C1505.3 775.7 1507.0 769.8 1508.3 767.5C1509.5 765.2 1510.5 765.3 1511.7 766.3C1513.0 767.3 1514.4 771.1 1515.8 773.3C1517.2 775.4 1518.9 778.4 1520.0 779.2C1521.1 780.0 1521.5 780.4 1522.5 778.3C1523.5 776.2 1524.4 772.0 1525.8 766.7C1527.2 761.4 1529.0 754.5 1530.8 746.7C1532.6 738.9 1535.0 726.4 1536.7 720.0C1538.4 713.6 1539.5 711.3 1540.8 708.3C1542.0 705.2 1542.7 702.9 1544.2 701.7C1545.7 700.5 1548.5 700.1 1550.0 701.2C1551.5 702.3 1552.2 706.0 1553.3 708.3C1554.4 710.6 1555.3 711.7 1556.7 715.0C1558.1 718.3 1559.8 723.6 1561.7 728.3C1563.6 733.0 1566.2 738.8 1568.3 743.3C1570.4 747.8 1572.2 752.9 1574.2 755.0C1576.2 757.1 1578.2 756.5 1580.0 755.8C1581.8 755.1 1582.8 751.7 1585.0 750.8C1587.2 749.9 1591.1 751.3 1593.3 750.5C1595.5 749.7 1596.6 747.0 1598.3 745.8C1600.0 744.5 1601.5 743.5 1603.3 743.0C1605.1 742.5 1607.2 742.2 1609.2 743.0C1611.2 743.8 1613.2 745.8 1615.0 747.5C1616.8 749.2 1618.3 750.4 1620.0 753.3C1621.7 756.2 1623.3 760.7 1625.3 765.0C1627.3 769.3 1629.8 774.8 1632.0 779.2C1634.2 783.7 1636.8 787.7 1638.7 791.7C1640.7 795.7 1641.5 798.6 1643.7 803.3C1645.9 808.0 1649.2 815.4 1652.0 820.0C1654.8 824.6 1657.5 828.2 1660.3 830.8C1663.1 833.4 1666.5 834.6 1668.7 835.8C1670.9 837.0 1672.0 838.0 1673.7 838.0C1675.4 838.0 1676.8 836.7 1678.7 835.8C1680.6 834.9 1683.1 833.2 1685.3 832.5C1687.5 831.8 1689.8 832.5 1692.0 831.7C1694.2 830.9 1696.5 828.5 1698.7 827.5C1700.9 826.5 1703.1 826.5 1705.3 825.8C1707.5 825.1 1709.5 824.4 1712.0 823.3C1714.5 822.2 1717.2 820.0 1720.3 819.2C1723.3 818.5 1727.4 819.5 1730.3 818.8C1733.2 818.0 1735.6 815.1 1737.8 814.7C1740.0 814.4 1741.9 816.7 1743.7 816.7C1745.5 816.7 1746.8 814.4 1748.7 814.7C1750.6 815.0 1752.8 818.0 1755.3 818.3C1757.8 818.6 1761.5 816.6 1763.7 816.7C1765.9 816.9 1767.0 819.2 1768.7 819.2C1770.4 819.2 1771.9 817.0 1773.7 817.0C1775.5 817.0 1777.6 819.2 1779.5 819.2C1781.4 819.2 1782.9 817.6 1785.3 816.7C1787.7 815.8 1791.8 814.0 1793.7 813.8C1795.7 813.6 1795.6 815.3 1797.0 815.3C1798.4 815.3 1800.0 814.0 1802.0 813.7C1804.0 813.4 1806.8 814.1 1808.7 813.7C1810.7 813.3 1811.4 811.6 1813.7 811.2C1816.0 810.8 1821.3 811.2 1822.8 811.2" fill="none" stroke="#569393" stroke-width="2.00" stroke-linejoin="round" stroke-linecap="butt" clip-path="url(#cf)"/>
<rect x="1328.2" y="566.7" width="494.8" height="394.2" fill="none" stroke="#000" stroke-width="1.85"/>
<line x1="1389.9" y1="960.9" x2="1389.9" y2="953.9" stroke="#000" stroke-width="1.85"/>
<line x1="1513.6" y1="960.9" x2="1513.6" y2="953.9" stroke="#000" stroke-width="1.85"/>
<line x1="1637.3" y1="960.9" x2="1637.3" y2="953.9" stroke="#000" stroke-width="1.85"/>
<line x1="1761.0" y1="960.9" x2="1761.0" y2="953.9" stroke="#000" stroke-width="1.85"/>
<line x1="1451.8" y1="960.9" x2="1451.8" y2="957.3" stroke="#000" stroke-width="1.85"/>
<line x1="1575.5" y1="960.9" x2="1575.5" y2="957.3" stroke="#000" stroke-width="1.85"/>
<line x1="1699.2" y1="960.9" x2="1699.2" y2="957.3" stroke="#000" stroke-width="1.85"/>
<text x="1389.9" y="991.4" font-size="29.0px" fill="#000" text-anchor="middle" ><tspan>530</tspan></text>
<text x="1513.6" y="991.4" font-size="29.0px" fill="#000" text-anchor="middle" ><tspan>540</tspan></text>
<text x="1637.3" y="991.4" font-size="29.0px" fill="#000" text-anchor="middle" ><tspan>550</tspan></text>
<text x="1761.0" y="991.4" font-size="29.0px" fill="#000" text-anchor="middle" ><tspan>560</tspan></text>
<text x="1576.0" y="1023.7" font-size="29.2px" fill="#000" text-anchor="middle" ><tspan>Photon energy (eV)</tspan></text>
<text transform="translate(1293.0 763.6) rotate(-90)" font-size="29.1px" text-anchor="middle">Intensity (a. u.)</text>
<text x="1686.8" y="596.5" font-size="29.0px" fill="#000" text-anchor="start" ><tspan>O </tspan><tspan font-style="italic">K</tspan><tspan>-edge</tspan></text>
<text x="1422.8" y="649.1" font-size="29.0px" fill="#000" text-anchor="start" ><tspan>O</tspan><tspan dy="8.5" font-size="18.9px" dx="0.3">2</tspan><tspan font-size="18.9px" font-style="italic">p</tspan><tspan dy="-8.5" dx="0.4">-</tspan><tspan font-style="italic">e</tspan><tspan dy="8.5" font-size="18.9px" font-style="italic" dx="0.4">g</tspan></text>
<text x="1499.8" y="629.5" font-size="29.0px" fill="#000" text-anchor="start" ><tspan>O</tspan><tspan dy="9.0" font-size="18.9px" dx="0.3">2</tspan><tspan font-size="18.9px" font-style="italic">p</tspan><tspan dy="-9.0" dx="0.5">-Ti</tspan><tspan dy="9.0" font-size="18.9px" dx="0.5">4</tspan><tspan font-size="18.9px" font-style="italic">sp</tspan></text>
<text x="1368.6" y="768.3" font-size="29.0px" fill="#000" text-anchor="start" ><tspan>O</tspan><tspan dy="8.5" font-size="18.9px" dx="0.3">2</tspan><tspan font-size="18.9px" font-style="italic">p</tspan><tspan dy="-8.5" dx="0.4">-</tspan><tspan font-style="italic">t</tspan><tspan dy="8.5" font-size="18.9px" font-style="italic" dx="0.4">2g</tspan></text>
<line x1="1609.2" y1="871.3" x2="1647.8" y2="871.3" stroke="#569393" stroke-width="1.8"/>
<line x1="1609.2" y1="913.7" x2="1647.8" y2="913.7" stroke="#fc7575" stroke-width="1.8"/>
<text x="1660.5" y="881.2" font-size="29.0px" fill="#569393" text-anchor="start" ><tspan>Sr</tspan><tspan dy="8.6" font-size="19.1px">2</tspan><tspan dy="-8.6">TiO</tspan><tspan dy="8.6" font-size="19.1px">4</tspan><tspan dy="-8.6">-N</tspan></text>
<text x="1660.5" y="923.3" font-size="29.0px" fill="#fc7575" text-anchor="start" ><tspan>Sr</tspan><tspan dy="8.6" font-size="19.1px">2</tspan><tspan dy="-8.6">TiO</tspan><tspan dy="8.6" font-size="19.1px">4</tspan><tspan dy="-8.6">-NF</tspan></text>
</svg></body></html>
